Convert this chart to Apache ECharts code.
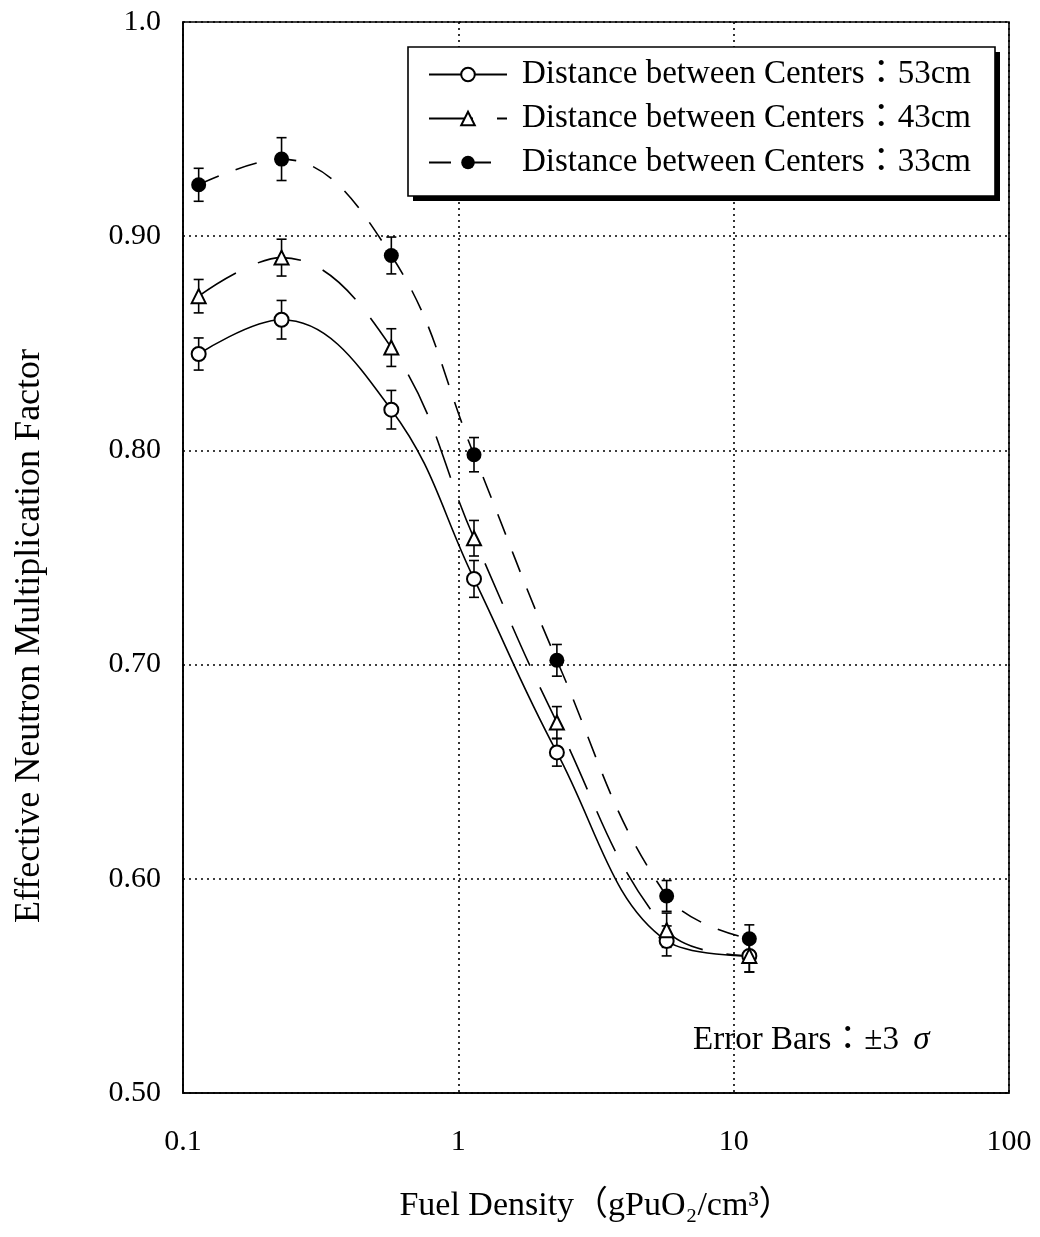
<!DOCTYPE html>
<html>
<head>
<meta charset="utf-8">
<script src="https://cdn.jsdelivr.net/npm/echarts@6/dist/echarts.min.js"></script>
<style>
  html, body { margin: 0; padding: 0; background: #fff; }
  #chart { width: 1040px; height: 1237px; }
</style>
</head>
<body>
<div id="chart"></div>
<script>
// fuel density (gPuO2/cm3)
var xValues = [0.114, 0.228, 0.571, 1.14, 2.28, 5.71, 11.4];

// keff for each distance between centers
var k53 = [0.845, 0.861, 0.819, 0.740, 0.659, 0.571, 0.564];
var k43 = [0.872, 0.890, 0.848, 0.759, 0.673, 0.576, 0.564];
var k33 = [0.924, 0.936, 0.891, 0.798, 0.702, 0.592, 0.572];

// +-3 sigma
var err53 = [0.0075, 0.009, 0.009, 0.0086, 0.0064, 0.007, 0.0075];
var err43 = [0.0078, 0.0086, 0.0088, 0.0083, 0.0074, 0.008, 0.0075];
var err33 = [0.0077, 0.010, 0.0086, 0.008, 0.0074, 0.0072, 0.0065];

var seriesNames = [
  'Distance between Centers：53cm',
  'Distance between Centers：43cm',
  'Distance between Centers：33cm'
];

var yTickValues = [0.5, 0.6, 0.7, 0.8, 0.9, 1.0];
var yTickLabels = ['0.50', '0.60', '0.70', '0.80', '0.90', '1.0'];

var FONT = "'Liberation Serif', 'Times New Roman', 'Noto Sans CJK JP', serif";

function pts(ys) {
  return xValues.map(function (x, i) { return [x, ys[i]]; });
}
function bars(ys, es) {
  return xValues.map(function (x, i) { return [x, ys[i] - es[i], ys[i] + es[i]]; });
}

function renderErr(params, api) {
  var lo = api.coord([api.value(0), api.value(1)]);
  var hi = api.coord([api.value(0), api.value(2)]);
  var w = 5;
  var st = { stroke: '#000', lineWidth: 1.6 };
  return {
    type: 'group',
    children: [
      { type: 'line', shape: { x1: lo[0], y1: lo[1], x2: hi[0], y2: hi[1] }, style: st },
      { type: 'line', shape: { x1: lo[0] - w, y1: lo[1], x2: lo[0] + w, y2: lo[1] }, style: st },
      { type: 'line', shape: { x1: hi[0] - w, y1: hi[1], x2: hi[0] + w, y2: hi[1] }, style: st }
    ]
  };
}

var myChart = echarts.init(document.getElementById('chart'));

var option = {
  backgroundColor: '#fff',
  animation: false,
  textStyle: { fontFamily: FONT, color: '#000' },
  grid: {
    left: 183, top: 22, right: 31, bottom: 144,
    show: true, borderColor: '#000', borderWidth: 1.6, backgroundColor: 'transparent'
  },
  legend: {
    orient: 'vertical',
    left: 428, top: 58,
    padding: 0,
    itemGap: 11,
    itemWidth: 78,
    itemHeight: 17,
    z: 10,
    textStyle: { fontFamily: FONT, fontSize: 33, color: '#000', padding: [0, 0, 0, 10] },
    data: seriesNames
  },
  xAxis: {
    type: 'log',
    logBase: 10,
    min: 0.1,
    max: 100,
    name: 'Fuel Density（gPuO₂/cm³）',
    nameLocation: 'middle',
    nameGap: 96,
    nameTextStyle: { fontFamily: FONT, fontSize: 34, color: '#000' },
    axisLine: { show: true, lineStyle: { color: '#000', width: 1.6 } },
    axisTick: { show: false },
    axisLabel: { fontFamily: FONT, fontSize: 30, color: '#000', margin: 34 },
    splitLine: { show: true, lineStyle: { color: '#000', type: [2, 4], width: 1.6 } },
    minorSplitLine: { show: false }
  },
  yAxis: {
    type: 'value',
    min: 0.5,
    max: 1.0,
    interval: 0.1,
    axisLine: { show: true, lineStyle: { color: '#000', width: 1.6 } },
    axisTick: { show: false },
    axisLabel: {
      fontFamily: FONT, fontSize: 30, color: '#000', margin: 22,
      formatter: function (v) {
        for (var i = 0; i < yTickValues.length; i++) {
          if (Math.abs(v - yTickValues[i]) < 1e-6) return yTickLabels[i];
        }
        return '';
      }
    },
    splitLine: { show: true, lineStyle: { color: '#000', type: [2, 4], width: 1.6 } }
  },
  graphic: [
    // legend frame with hard drop shadow
    {
      type: 'rect', z: 5,
      shape: { x: 413, y: 52, width: 587, height: 149 },
      style: { fill: '#000' }
    },
    {
      type: 'rect', z: 6,
      shape: { x: 408, y: 47, width: 587, height: 149 },
      style: { fill: '#fff', stroke: '#000', lineWidth: 1.6 }
    },
    {
      type: 'text',
      x: 30, y: 636,
      rotation: Math.PI / 2,
      style: {
        text: 'Effective Neutron Multiplication Factor',
        font: '36px ' + FONT,
        fill: '#000',
        align: 'center',
        verticalAlign: 'middle'
      }
    },
    {
      type: 'text',
      x: 693, y: 1040,
      style: {
        text: 'Error Bars：±3 {s|σ}',
        font: '33px ' + FONT,
        fill: '#000',
        verticalAlign: 'middle',
        rich: { s: { fontFamily: FONT, fontSize: 33, fontStyle: 'italic', padding: [0, 0, 0, 6] } }
      }
    }
  ],
  series: [
    {
      type: 'custom', silent: true, z: 1,
      renderItem: renderErr, data: bars(k53, err53)
    },
    {
      type: 'custom', silent: true, z: 1,
      renderItem: renderErr, data: bars(k43, err43)
    },
    {
      type: 'custom', silent: true, z: 1,
      renderItem: renderErr, data: bars(k33, err33)
    },
    {
      name: seriesNames[0],
      type: 'line', smooth: 0.4, z: 3,
      data: pts(k53),
      symbol: 'emptyCircle', symbolSize: 14, showAllSymbol: true,
      lineStyle: { color: '#000', width: 1.6, type: 'solid' },
      itemStyle: { color: '#000', borderColor: '#000', borderWidth: 1.6 }
    },
    {
      name: seriesNames[1],
      type: 'line', smooth: 0.4, z: 3,
      data: pts(k43),
      symbol: 'emptyTriangle', symbolSize: 14, showAllSymbol: true,
      lineStyle: { color: '#000', width: 1.6, type: [44, 24] },
      itemStyle: { color: '#000', borderColor: '#000', borderWidth: 1.6 }
    },
    {
      name: seriesNames[2],
      type: 'line', smooth: 0.4, z: 3,
      data: pts(k33),
      symbol: 'circle', symbolSize: 15, showAllSymbol: true,
      lineStyle: { color: '#000', width: 1.6, type: [22, 18] },
      itemStyle: { color: '#000' }
    }
  ]
};

myChart.setOption(option);
</script>
</body>
</html>
